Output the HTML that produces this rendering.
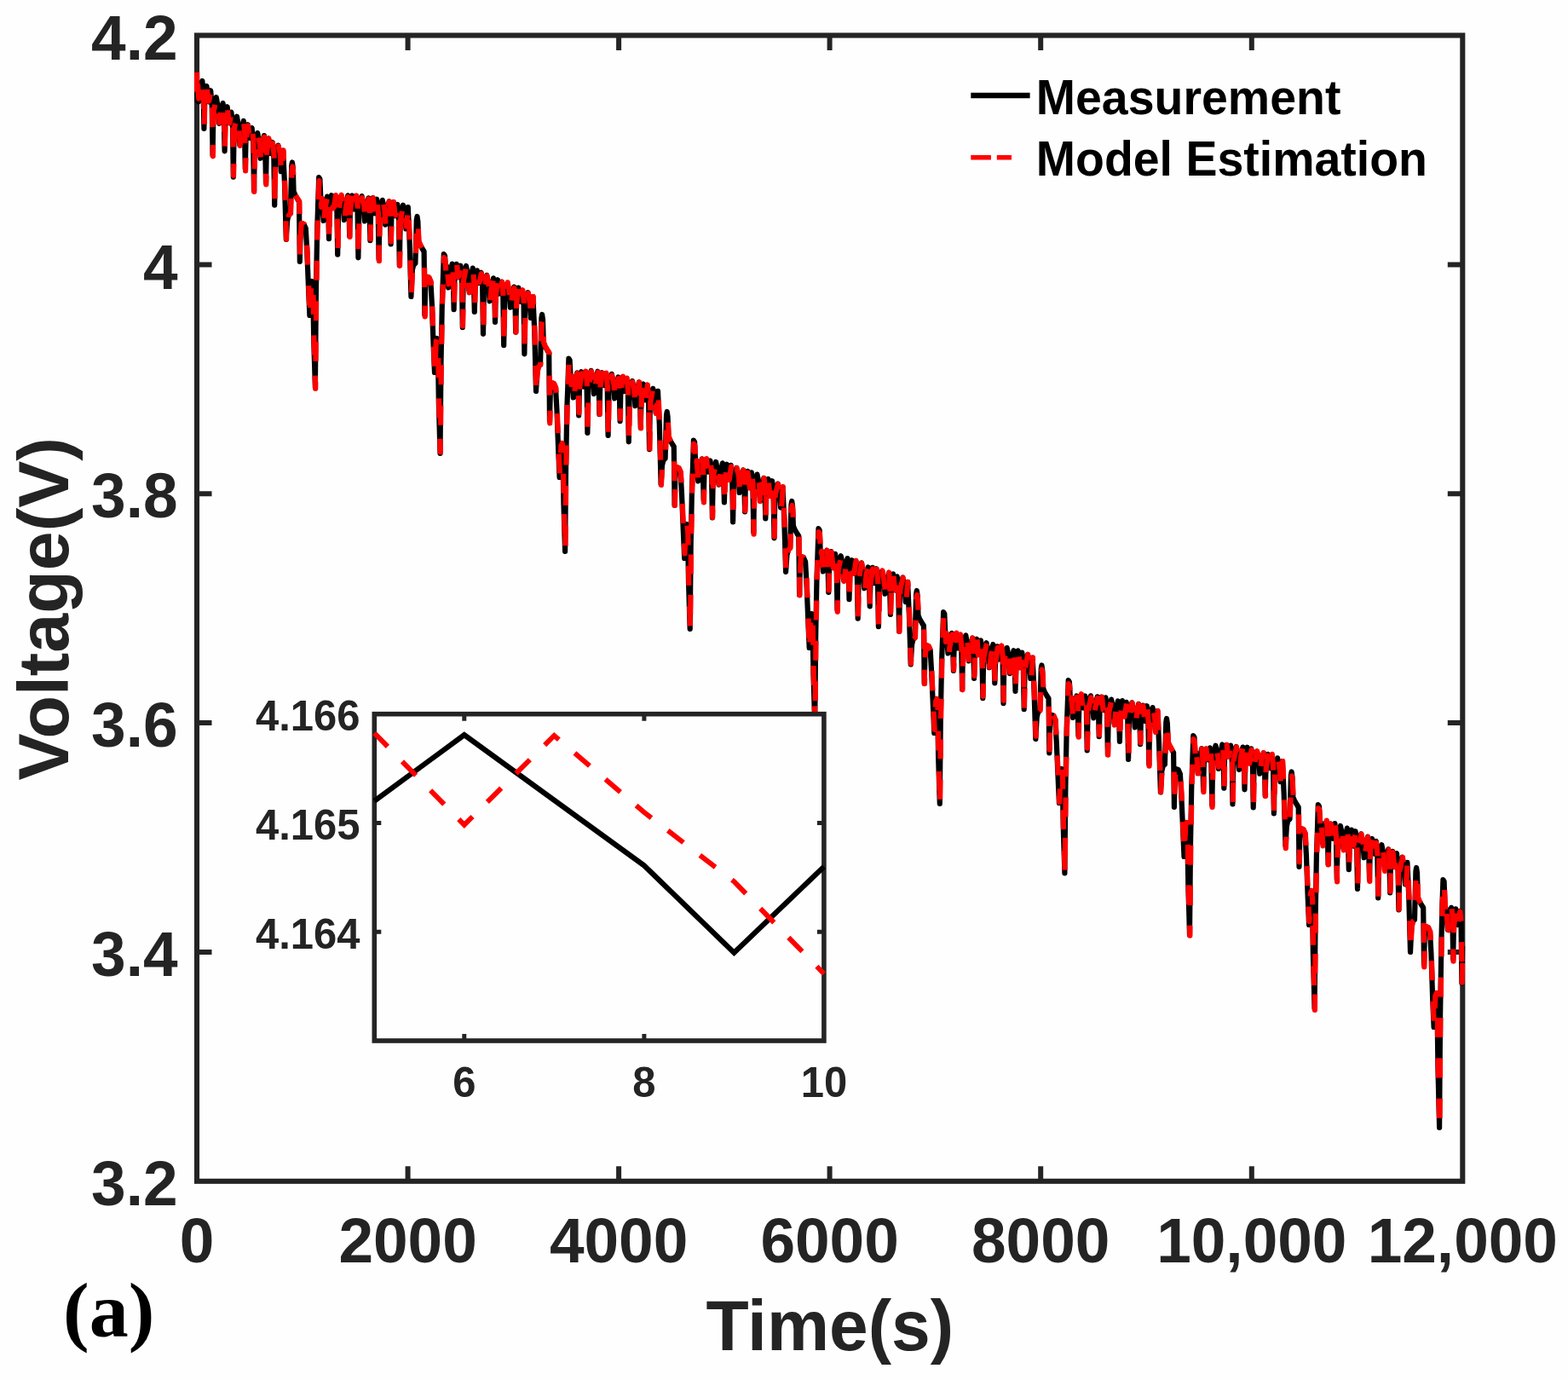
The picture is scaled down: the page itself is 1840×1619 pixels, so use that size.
<!DOCTYPE html>
<html lang="en"><head><meta charset="utf-8"><title>Voltage vs Time</title>
<style>html,body{margin:0;padding:0;background:#fefefe;overflow:hidden;}svg{display:block;}text{font-family:"Liberation Sans",Arial,Helvetica,sans-serif;font-weight:bold;}</style></head><body>
<svg width="1840" height="1619" viewBox="0 0 1840 1619">
<rect x="0" y="0" width="1840" height="1619" fill="#fefefe"/>
<rect x="231.0" y="41.5" width="1485.3" height="1344.3" fill="none" stroke="#242424" stroke-width="6.1"/>
<path d="M478.6 1385.8 v-17.5 M478.6 41.5 v17.5 M726.1 1385.8 v-17.5 M726.1 41.5 v17.5 M973.6 1385.8 v-17.5 M973.6 41.5 v17.5 M1221.2 1385.8 v-17.5 M1221.2 41.5 v17.5 M1468.8 1385.8 v-17.5 M1468.8 41.5 v17.5 M231.0 310.4 h17.5 M1716.3 310.4 h-17.5 M231.0 579.2 h17.5 M1716.3 579.2 h-17.5 M231.0 848.1 h17.5 M1716.3 848.1 h-17.5 M231.0 1116.9 h17.5 M1716.3 1116.9 h-17.5" fill="none" stroke="#242424" stroke-width="6.0"/>
<clipPath id="cp"><rect x="227.8" y="41.5" width="1491.7" height="1344.3"/></clipPath>
<g clip-path="url(#cp)" fill="none" stroke-linejoin="round" stroke-linecap="butt">
<path d="M231.0 84.8 L231.3 117.8 L231.9 98.6 L233.0 119.3 L233.7 118.2 L234.8 103.2 L237.4 95.0 L238.6 109.5 L239.4 151.0 L240.2 114.3 L242.5 101.0 L243.9 118.1 L244.9 119.3 L247.2 106.2 L248.7 124.2 L249.6 182.2 L250.5 127.8 L253.8 114.2 L256.1 127.5 L257.2 144.9 L257.9 143.4 L259.0 131.0 L261.6 121.1 L262.8 138.0 L263.6 177.3 L264.4 138.2 L266.7 125.2 L268.1 142.8 L269.1 143.9 L271.4 131.6 L272.9 144.7 L273.8 207.7 L274.7 150.8 L278.0 136.7 L280.3 151.0 L281.4 170.1 L282.1 168.4 L283.2 153.8 L285.8 141.8 L287.0 156.0 L287.8 198.0 L288.6 161.0 L290.9 146.2 L292.3 161.2 L293.3 161.9 L295.6 150.1 L297.1 165.5 L298.0 223.6 L298.9 170.8 L302.2 156.1 L304.5 168.6 L305.6 185.7 L306.3 184.0 L307.4 169.0 L310.0 159.1 L311.2 176.9 L312.0 214.3 L312.8 176.9 L315.1 162.3 L316.5 179.8 L317.5 180.0 L319.8 167.0 L321.3 181.9 L322.2 240.7 L323.1 186.1 L326.4 170.6 L328.7 181.9 L329.8 201.2 L330.5 199.7 L332.2 176.7 L334.0 215.7 L335.8 280.8 L337.2 258.5 L338.6 252.5 L340.8 250.5 L342.2 194.5 L342.9 190.5 L343.8 196.5 L344.6 224.5 L346.2 228.5 L349.1 233.5 L351.0 236.5 L351.8 307.0 L352.6 273.0 L353.4 262.0 L356.6 263.0 L358.8 268.0 L360.2 293.0 L362.0 338.0 L363.4 370.0 L364.9 333.0 L366.2 330.0 L367.2 340.0 L368.2 398.5 L369.9 454.5 L370.9 343.6 L372.2 269.6 L373.2 238.0 L374.2 208.0 L375.4 210.0 L376.8 242.9 L377.6 232.9 L379.6 258.9 L380.3 256.9 L381.4 242.4 L384.0 230.6 L385.2 242.2 L386.0 280.2 L386.8 246.9 L389.1 229.2 L390.5 242.8 L391.5 243.4 L393.8 229.6 L395.3 242.4 L396.2 298.6 L397.1 245.5 L400.4 229.8 L402.7 238.3 L403.8 258.1 L404.5 256.1 L405.6 243.4 L408.2 229.3 L409.4 242.8 L410.2 276.9 L411.0 244.7 L413.3 229.5 L414.7 242.4 L415.7 245.4 L418.0 230.1 L419.5 242.3 L420.4 302.3 L421.3 248.1 L424.6 230.1 L426.9 242.1 L428.0 259.5 L428.7 257.6 L429.8 244.8 L432.4 232.3 L433.6 247.8 L434.4 282.1 L435.2 248.7 L437.5 232.1 L438.9 245.3 L439.9 250.3 L442.2 233.7 L443.7 248.9 L444.6 304.1 L445.5 251.8 L448.8 234.9 L451.1 246.2 L452.2 263.6 L452.9 261.8 L454.0 246.1 L456.6 236.3 L457.8 251.3 L458.6 286.5 L459.4 253.6 L461.7 237.1 L463.1 250.7 L464.1 253.2 L466.4 239.9 L467.9 255.0 L468.8 311.5 L469.7 258.4 L473.0 240.7 L475.3 251.7 L476.4 268.5 L477.1 266.5 L478.8 243.1 L480.6 282.1 L482.4 348.0 L483.8 317.0 L485.2 311.0 L487.4 309.0 L488.8 258.0 L489.5 254.0 L490.4 260.0 L491.2 283.0 L492.8 287.0 L495.7 292.0 L497.6 295.0 L498.4 369.5 L499.2 335.5 L500.0 324.5 L503.2 325.5 L505.4 330.5 L506.8 355.5 L508.6 405.0 L510.0 437.0 L511.5 400.0 L512.8 397.0 L513.8 407.0 L514.8 471.2 L516.5 532.0 L517.5 426.7 L518.8 356.5 L519.8 328.0 L520.8 298.0 L522.0 300.0 L523.4 322.4 L524.2 312.4 L526.2 337.4 L526.9 335.5 L528.0 324.5 L530.6 309.6 L531.8 326.2 L532.6 363.1 L533.4 327.2 L535.7 309.9 L537.1 325.5 L538.1 324.8 L540.4 311.7 L541.9 323.9 L542.8 384.2 L543.7 328.7 L547.0 312.0 L549.3 324.8 L550.4 340.6 L551.1 339.0 L552.2 326.2 L554.8 314.6 L556.0 330.8 L556.8 365.9 L557.6 333.0 L559.9 317.3 L561.3 330.0 L562.3 332.0 L564.6 319.7 L566.1 332.6 L567.0 391.8 L567.9 339.7 L571.2 322.8 L573.5 336.4 L574.6 353.3 L575.3 351.6 L576.4 339.6 L579.0 326.4 L580.2 338.7 L581.0 378.0 L581.8 342.6 L584.1 328.2 L585.5 344.7 L586.5 342.4 L588.8 330.6 L590.3 347.1 L591.2 405.2 L592.1 345.6 L595.4 332.3 L597.7 345.3 L598.8 360.6 L599.5 358.8 L600.6 348.8 L603.2 336.6 L604.4 352.8 L605.2 389.8 L606.0 354.8 L608.3 337.5 L609.7 350.8 L610.7 353.9 L613.0 341.0 L614.5 355.0 L615.4 415.3 L616.3 356.7 L619.6 343.2 L621.9 356.1 L623.0 373.0 L623.7 371.4 L625.4 348.0 L627.2 387.0 L629.0 459.0 L630.4 436.0 L631.8 430.0 L634.0 428.0 L635.4 373.0 L636.1 369.0 L637.0 375.0 L637.8 402.0 L639.4 406.0 L642.3 411.0 L644.2 414.0 L645.0 494.0 L645.8 460.0 L646.6 449.0 L649.8 450.0 L652.0 455.0 L653.4 480.0 L655.2 528.0 L656.6 560.0 L658.1 523.0 L659.4 520.0 L660.4 530.0 L661.4 589.9 L663.1 647.0 L664.1 545.1 L665.4 477.1 L666.4 450.5 L667.4 420.5 L668.6 422.5 L670.0 451.2 L670.8 441.2 L672.8 466.5 L673.5 464.4 L674.6 451.1 L677.2 437.3 L678.4 450.4 L679.2 487.4 L680.0 453.8 L682.3 436.2 L683.7 448.6 L684.7 453.6 L687.0 436.7 L688.5 449.6 L689.4 508.0 L690.3 452.9 L693.6 434.8 L695.9 445.2 L697.0 462.1 L697.7 460.0 L698.8 448.1 L701.4 435.7 L702.6 449.5 L703.4 486.2 L704.2 454.4 L706.5 437.2 L707.9 450.8 L708.9 451.9 L711.2 438.5 L712.7 454.9 L713.6 510.9 L714.5 456.0 L717.8 438.8 L720.1 451.0 L721.2 467.5 L721.9 465.7 L723.0 454.2 L725.6 442.5 L726.8 458.2 L727.6 494.2 L728.4 457.7 L730.7 442.6 L732.1 459.1 L733.1 459.0 L735.4 444.2 L736.9 460.1 L737.8 518.3 L738.7 462.2 L742.0 447.1 L744.3 460.2 L745.4 476.2 L746.1 474.4 L747.2 463.1 L749.8 448.4 L751.0 466.4 L751.8 501.9 L752.6 464.5 L754.9 450.5 L756.3 465.2 L757.3 469.4 L759.6 451.7 L761.1 469.0 L762.0 527.1 L762.9 471.3 L766.2 455.8 L768.5 467.3 L769.6 484.0 L770.3 482.3 L772.0 458.9 L773.8 497.9 L775.6 568.0 L777.0 546.0 L778.4 540.0 L780.6 538.0 L782.0 487.0 L782.7 483.0 L783.6 489.0 L784.4 512.0 L786.0 516.0 L788.9 521.0 L790.8 524.0 L791.6 593.0 L792.4 559.0 L793.2 548.0 L796.4 549.0 L798.6 554.0 L800.0 579.0 L801.8 623.0 L803.2 655.0 L804.7 618.0 L806.0 615.0 L807.0 625.0 L808.0 682.6 L809.7 738.0 L810.7 638.4 L812.0 572.0 L813.0 546.7 L813.9 516.7 L815.1 518.7 L816.5 550.5 L817.3 540.6 L819.3 564.5 L820.0 562.7 L821.1 551.5 L823.7 538.3 L824.9 554.2 L825.7 586.6 L826.5 554.9 L828.8 539.2 L830.2 552.3 L831.2 553.5 L833.5 540.5 L835.0 555.8 L835.9 607.5 L836.8 556.6 L840.1 541.9 L842.4 553.5 L843.5 568.6 L844.2 566.7 L845.3 556.0 L847.9 543.4 L849.1 557.2 L849.9 589.5 L850.7 560.6 L853.0 544.7 L854.4 560.5 L855.4 561.8 L857.7 545.8 L859.2 560.4 L860.1 612.4 L861.0 562.8 L864.3 548.8 L866.6 558.1 L867.7 578.0 L868.4 576.3 L869.5 563.8 L872.1 551.5 L873.3 563.7 L874.1 600.5 L874.9 567.4 L877.2 552.9 L878.6 564.7 L879.6 571.9 L881.9 554.4 L883.4 568.9 L884.3 624.3 L885.2 570.3 L888.5 556.6 L890.8 567.8 L891.9 587.7 L892.6 586.0 L893.7 572.7 L896.3 560.9 L897.5 575.9 L898.3 608.3 L899.1 577.1 L901.4 561.8 L902.8 577.9 L903.8 580.6 L906.1 564.2 L907.6 581.5 L908.5 631.3 L909.4 581.2 L912.7 567.6 L915.0 578.6 L916.1 595.3 L916.8 593.6 L918.5 571.3 L920.3 610.3 L922.1 670.8 L923.5 651.0 L924.9 645.0 L927.1 643.0 L928.5 592.0 L929.2 588.0 L930.1 594.0 L930.9 617.0 L932.5 621.0 L935.4 626.0 L937.3 629.0 L938.1 698.0 L938.9 664.0 L939.7 653.0 L942.9 654.0 L945.1 659.0 L946.5 684.0 L948.3 728.0 L949.7 760.0 L951.2 723.0 L952.5 720.0 L953.5 730.0 L954.5 791.5 L956.2 850.0 L957.2 746.5 L958.5 677.5 L959.5 650.0 L960.5 620.0 L961.7 622.0 L963.1 656.5 L963.9 646.7 L965.9 670.4 L966.6 668.6 L967.7 657.6 L970.3 645.7 L971.5 661.1 L972.3 694.9 L973.1 664.0 L975.4 647.0 L976.8 661.9 L977.8 665.1 L980.1 649.8 L981.6 662.3 L982.5 715.4 L983.4 668.2 L986.7 652.2 L989.0 662.4 L990.1 680.6 L990.8 678.9 L991.9 664.6 L994.5 655.1 L995.7 670.1 L996.5 703.2 L997.3 672.3 L999.6 657.2 L1001.0 669.3 L1002.0 672.7 L1004.3 657.8 L1005.8 674.9 L1006.7 725.6 L1007.6 678.5 L1010.9 660.3 L1013.2 673.6 L1014.3 690.2 L1015.0 688.5 L1016.1 675.3 L1018.7 665.4 L1019.9 677.4 L1020.7 711.3 L1021.5 680.5 L1023.8 665.8 L1025.2 679.3 L1026.2 684.1 L1028.5 667.2 L1030.0 683.5 L1030.9 735.2 L1031.8 685.7 L1035.1 669.8 L1037.4 682.6 L1038.5 696.7 L1039.2 694.9 L1040.3 686.0 L1042.9 672.4 L1044.1 689.2 L1044.9 720.9 L1045.7 689.2 L1048.0 673.3 L1049.4 689.0 L1050.4 692.4 L1052.7 676.3 L1054.2 690.6 L1055.1 740.7 L1056.0 692.2 L1059.3 677.6 L1061.6 689.3 L1062.7 706.1 L1063.4 704.4 L1065.1 682.8 L1066.9 721.8 L1068.7 779.5 L1070.1 756.0 L1071.5 750.0 L1073.7 748.0 L1075.1 697.0 L1075.8 693.0 L1076.7 699.0 L1077.5 722.0 L1079.1 726.0 L1082.0 731.0 L1083.9 734.0 L1084.7 802.0 L1085.5 768.0 L1086.3 757.0 L1089.5 758.0 L1091.7 763.0 L1093.1 788.0 L1094.9 828.0 L1096.3 860.0 L1097.8 823.0 L1099.1 820.0 L1100.1 830.0 L1101.1 887.6 L1102.8 943.0 L1103.8 841.8 L1105.1 774.2 L1106.1 748.0 L1107.1 718.0 L1108.3 720.0 L1109.7 753.1 L1110.5 743.2 L1112.5 766.4 L1113.2 764.6 L1114.3 756.1 L1116.9 742.8 L1118.1 757.5 L1118.9 787.0 L1119.7 757.9 L1122.0 743.6 L1123.4 756.6 L1124.4 760.4 L1126.7 745.2 L1128.2 758.5 L1129.1 808.6 L1130.0 762.5 L1133.3 745.3 L1135.6 758.1 L1136.7 775.4 L1137.4 773.6 L1138.5 760.6 L1141.1 748.6 L1142.3 765.5 L1143.1 795.9 L1143.9 764.1 L1146.2 749.7 L1147.6 766.4 L1148.6 766.0 L1150.9 751.4 L1152.4 767.9 L1153.3 819.1 L1154.2 771.1 L1157.5 754.2 L1159.8 763.8 L1160.9 783.2 L1161.6 781.5 L1162.7 769.3 L1165.3 756.0 L1166.5 772.5 L1167.3 801.4 L1168.1 775.7 L1170.4 758.3 L1171.8 773.6 L1172.8 771.7 L1175.1 758.2 L1176.6 773.5 L1177.5 825.1 L1178.4 774.4 L1181.7 760.1 L1184.0 771.6 L1185.1 790.1 L1185.8 788.2 L1186.9 776.6 L1189.5 763.2 L1190.7 778.6 L1191.5 810.9 L1192.3 777.8 L1194.6 763.4 L1196.0 777.6 L1197.0 782.0 L1199.3 765.6 L1200.8 782.7 L1201.7 832.1 L1202.6 785.5 L1205.9 767.8 L1208.2 780.9 L1209.3 795.9 L1210.0 794.2 L1211.7 771.7 L1213.5 810.7 L1215.3 867.0 L1216.7 841.5 L1218.1 835.5 L1220.3 833.5 L1221.7 784.5 L1222.4 780.5 L1223.3 786.5 L1224.1 807.5 L1225.7 811.5 L1228.6 816.5 L1230.5 819.5 L1231.3 883.5 L1232.1 849.5 L1232.9 838.5 L1236.1 839.5 L1238.3 844.5 L1239.7 869.5 L1241.5 910.0 L1242.9 942.0 L1244.4 905.0 L1245.7 902.0 L1246.7 912.0 L1247.7 969.4 L1249.4 1024.5 L1250.4 922.6 L1251.7 854.6 L1252.7 828.0 L1253.7 798.0 L1254.9 800.0 L1256.3 828.6 L1257.1 818.6 L1259.1 842.0 L1259.8 840.0 L1260.9 828.6 L1263.5 816.5 L1264.7 829.4 L1265.5 862.9 L1266.3 830.2 L1268.6 815.3 L1270.0 829.1 L1271.0 830.4 L1273.3 816.5 L1274.8 828.9 L1275.7 880.4 L1276.6 832.0 L1279.9 816.4 L1282.2 828.5 L1283.3 842.3 L1284.0 840.3 L1285.1 830.2 L1287.7 817.4 L1288.9 831.0 L1289.7 864.2 L1290.5 834.8 L1292.8 817.5 L1294.2 832.7 L1295.2 833.0 L1297.5 818.4 L1299.0 835.4 L1299.9 885.1 L1300.8 837.2 L1304.1 820.6 L1306.4 832.4 L1307.5 848.2 L1308.2 846.3 L1309.3 832.8 L1311.9 822.5 L1313.1 838.5 L1313.9 869.8 L1314.7 837.8 L1317.0 822.0 L1318.4 835.7 L1319.4 839.8 L1321.7 823.8 L1323.2 840.0 L1324.1 890.9 L1325.0 840.4 L1328.3 824.3 L1330.6 836.1 L1331.7 853.4 L1332.4 851.6 L1333.5 840.5 L1336.1 825.9 L1337.3 843.9 L1338.1 873.1 L1338.9 844.3 L1341.2 827.6 L1342.6 839.7 L1343.6 846.0 L1345.9 828.2 L1347.4 846.4 L1348.3 896.5 L1349.2 847.0 L1352.5 830.1 L1354.8 843.5 L1355.9 857.2 L1356.6 855.3 L1358.3 834.1 L1360.1 873.1 L1361.9 929.5 L1363.3 904.8 L1364.7 898.8 L1366.9 896.8 L1368.3 847.0 L1369.0 843.0 L1369.9 849.0 L1370.7 870.8 L1372.3 874.8 L1375.2 879.8 L1377.1 882.8 L1377.9 947.0 L1378.7 913.0 L1379.5 902.0 L1382.7 903.0 L1384.9 908.0 L1386.3 933.0 L1388.1 973.0 L1389.5 1005.0 L1391.0 968.0 L1392.3 965.0 L1393.3 975.0 L1394.3 1037.6 L1396.0 1097.0 L1397.0 991.7 L1398.3 921.5 L1399.3 893.0 L1400.3 863.0 L1401.5 865.0 L1402.9 893.4 L1403.7 883.3 L1405.7 907.2 L1406.4 905.0 L1407.5 894.4 L1410.1 878.1 L1411.3 894.2 L1412.1 926.7 L1412.9 893.1 L1415.2 878.7 L1416.6 889.0 L1417.6 891.3 L1419.9 877.3 L1421.4 893.1 L1422.3 944.7 L1423.2 891.6 L1426.5 874.7 L1428.8 886.1 L1429.9 901.9 L1430.6 899.8 L1431.7 887.6 L1434.3 873.5 L1435.5 887.6 L1436.3 924.6 L1437.1 888.1 L1439.4 873.9 L1440.8 886.0 L1441.8 887.0 L1444.1 874.6 L1445.6 886.6 L1446.5 943.4 L1447.4 891.8 L1450.7 876.0 L1453.0 887.1 L1454.1 902.9 L1454.8 901.0 L1455.9 887.1 L1458.5 876.6 L1459.7 893.2 L1460.5 926.3 L1461.3 893.1 L1463.6 876.7 L1465.0 890.4 L1466.0 895.1 L1468.3 878.3 L1469.8 891.5 L1470.7 947.5 L1471.6 896.3 L1474.9 881.6 L1477.2 891.9 L1478.3 907.7 L1479.0 906.0 L1480.1 892.9 L1482.7 883.3 L1483.9 896.9 L1484.7 933.7 L1485.5 899.8 L1487.8 884.8 L1489.2 899.5 L1490.2 900.9 L1492.5 885.7 L1494.0 901.5 L1494.9 954.4 L1495.8 904.3 L1499.1 889.3 L1501.4 901.2 L1502.5 917.1 L1503.2 915.4 L1504.9 893.2 L1506.7 932.2 L1508.5 992.5 L1509.9 969.0 L1511.3 963.0 L1513.5 961.0 L1514.9 909.5 L1515.6 905.5 L1516.5 911.5 L1517.3 935.0 L1518.9 939.0 L1521.8 944.0 L1523.7 947.0 L1524.5 1017.0 L1525.3 983.0 L1526.1 972.0 L1529.3 973.0 L1531.5 978.0 L1532.9 1003.0 L1534.7 1053.0 L1536.1 1085.0 L1537.6 1048.0 L1538.9 1045.0 L1539.9 1055.0 L1540.9 1120.9 L1542.6 1183.0 L1543.6 1075.5 L1544.9 1003.8 L1545.9 974.0 L1546.8 944.0 L1548.0 946.0 L1549.4 975.2 L1550.2 965.3 L1552.2 989.3 L1552.9 987.5 L1554.0 977.2 L1556.6 963.5 L1557.8 978.3 L1558.6 1014.1 L1559.4 981.1 L1561.7 966.5 L1563.1 977.3 L1564.1 983.8 L1566.4 966.1 L1567.9 983.6 L1568.8 1031.8 L1569.7 983.5 L1573.0 969.0 L1575.3 980.9 L1576.4 994.9 L1577.1 993.1 L1578.2 982.9 L1580.8 971.6 L1582.0 988.2 L1582.8 1020.1 L1583.6 989.5 L1585.9 973.6 L1587.3 988.9 L1588.3 992.5 L1590.6 975.2 L1592.1 991.2 L1593.0 1042.9 L1593.9 991.5 L1597.2 978.3 L1599.5 990.9 L1600.6 1006.2 L1601.3 1004.5 L1602.4 995.4 L1605.0 981.6 L1606.2 999.7 L1607.0 1031.6 L1607.8 997.8 L1610.1 984.0 L1611.5 996.9 L1612.5 1001.6 L1614.8 986.9 L1616.3 1002.9 L1617.2 1053.4 L1618.1 1006.1 L1621.4 991.2 L1623.7 1003.7 L1624.8 1020.3 L1625.5 1018.7 L1626.6 1006.8 L1629.2 996.3 L1630.4 1010.9 L1631.2 1047.4 L1632.0 1012.7 L1634.3 998.9 L1635.7 1012.3 L1636.7 1016.3 L1639.0 1001.1 L1640.5 1019.6 L1641.4 1067.5 L1642.3 1020.4 L1645.6 1005.7 L1647.9 1019.9 L1649.0 1037.3 L1649.7 1035.7 L1651.4 1011.9 L1653.2 1050.9 L1655.0 1117.0 L1656.4 1087.0 L1657.8 1081.0 L1660.0 1079.0 L1661.4 1022.0 L1662.1 1018.0 L1663.0 1024.0 L1663.8 1053.0 L1665.4 1057.0 L1668.3 1062.0 L1670.2 1065.0 L1671.0 1132.0 L1671.8 1098.0 L1672.6 1087.0 L1675.8 1088.0 L1678.0 1093.0 L1679.4 1118.0 L1681.2 1173.0 L1682.6 1205.0 L1684.1 1168.0 L1685.4 1165.0 L1686.4 1175.0 L1687.4 1251.9 L1689.1 1323.0 L1690.1 1192.0 L1691.4 1104.8 L1692.4 1062.0 L1693.4 1032.0 L1694.6 1034.0 L1696.0 1075.3 L1696.8 1065.5 L1698.8 1090.4 L1699.5 1088.7 L1700.6 1077.0 L1703.2 1064.9 L1704.4 1077.0 L1705.2 1125.3 L1706.0 1083.6 L1708.3 1066.3 L1709.7 1078.6 L1710.7 1085.0 L1713.0 1068.8 L1714.5 1080.9 L1715.4 1153.5 L1716.3 1110.0" stroke="#000" stroke-width="6.2"/>
<path d="M231.0 84.8 L231.3 117.8 L232.2 100.4 L233.3 115.7 L234.0 114.8 L235.1 104.7 L237.7 96.2 L238.9 110.4 L239.7 149.1 L240.5 115.1 L242.8 101.7 L244.2 118.7 L245.2 118.6 L247.5 106.3 L249.0 124.3 L249.9 183.3 L250.8 129.7 L254.1 116.0 L256.4 128.0 L257.5 144.0 L258.2 141.3 L259.3 129.9 L261.9 120.0 L263.1 138.3 L263.9 175.5 L264.7 138.2 L267.0 126.9 L268.4 143.3 L269.4 144.4 L271.7 131.2 L273.2 143.6 L274.1 206.0 L275.0 150.0 L278.3 137.1 L280.6 153.0 L281.7 170.8 L282.4 165.7 L283.5 155.5 L286.1 143.2 L287.3 157.2 L288.1 200.4 L288.9 162.2 L291.2 147.5 L292.6 161.1 L293.6 163.9 L295.9 151.9 L297.4 164.8 L298.3 224.9 L299.2 171.9 L302.5 156.4 L304.8 169.1 L305.9 185.1 L306.6 186.5 L307.7 169.4 L310.3 160.6 L311.5 176.9 L312.3 216.5 L313.1 178.6 L315.4 162.6 L316.8 180.4 L317.8 181.7 L320.1 168.1 L321.6 182.2 L322.5 238.2 L323.4 185.9 L326.7 171.6 L329.0 181.2 L330.1 203.6 L330.8 197.5 L332.5 176.7 L334.3 215.7 L336.1 280.7 L337.5 258.5 L338.9 252.5 L341.1 250.5 L342.5 199.5 L343.2 195.5 L344.1 201.5 L344.9 224.5 L346.5 228.5 L349.4 233.5 L351.3 236.5 L352.1 301.8 L352.9 273.0 L353.7 262.0 L356.9 263.0 L359.1 268.0 L360.5 293.0 L362.3 338.0 L363.7 371.8 L365.2 333.0 L366.5 330.0 L367.5 340.0 L368.5 399.2 L370.2 455.9 L371.2 344.3 L372.5 270.0 L373.5 238.0 L374.5 212.0 L375.7 214.0 L377.1 242.9 L377.9 232.9 L379.9 260.1 L380.6 253.3 L381.7 243.3 L384.3 230.3 L385.5 241.8 L386.3 282.4 L387.1 246.0 L389.4 229.6 L390.8 244.4 L391.8 243.0 L394.1 229.1 L395.6 244.0 L396.5 297.6 L397.4 246.5 L400.7 228.7 L403.0 238.3 L404.1 255.3 L404.8 256.8 L405.9 242.4 L408.5 231.2 L409.7 241.6 L410.5 278.0 L411.3 243.6 L413.6 229.1 L415.0 243.8 L416.0 244.7 L418.3 229.5 L419.8 243.4 L420.7 301.0 L421.6 247.0 L424.9 232.1 L427.2 241.4 L428.3 255.7 L429.0 256.0 L430.1 245.5 L432.7 233.5 L433.9 247.0 L434.7 280.4 L435.5 247.6 L437.8 232.3 L439.2 246.6 L440.2 251.5 L442.5 235.3 L444.0 250.1 L444.9 306.2 L445.8 252.9 L449.1 235.2 L451.4 245.8 L452.5 264.3 L453.2 260.0 L454.3 245.2 L456.9 236.5 L458.1 252.9 L458.9 283.4 L459.7 254.2 L462.0 237.1 L463.4 251.1 L464.4 252.4 L466.7 241.7 L468.2 254.6 L469.1 311.8 L470.0 258.5 L473.3 239.6 L475.6 252.3 L476.7 265.4 L477.4 262.9 L479.1 243.1 L480.9 282.1 L482.7 348.0 L484.1 317.0 L485.5 311.0 L487.7 309.0 L489.1 263.0 L489.8 259.0 L490.7 265.0 L491.5 283.0 L493.1 287.0 L496.0 292.0 L497.9 295.0 L498.7 371.5 L499.5 335.5 L500.3 324.5 L503.5 325.5 L505.7 330.5 L507.1 355.5 L508.9 405.0 L510.3 437.5 L511.8 400.0 L513.1 397.0 L514.1 407.0 L515.1 470.4 L516.8 530.5 L517.8 425.9 L519.1 356.1 L520.1 328.0 L521.1 302.0 L522.3 304.0 L523.7 322.4 L524.5 312.4 L526.5 333.4 L527.2 331.7 L528.3 324.6 L530.9 308.7 L532.1 327.3 L532.9 360.7 L533.7 326.3 L536.0 309.2 L537.4 325.0 L538.4 324.3 L540.7 312.2 L542.2 324.2 L543.1 382.4 L544.0 329.5 L547.3 311.5 L549.6 326.5 L550.7 343.4 L551.4 340.1 L552.5 326.4 L555.1 315.1 L556.3 331.5 L557.1 362.3 L557.9 333.2 L560.2 317.8 L561.6 329.4 L562.6 331.1 L564.9 321.1 L566.4 332.5 L567.3 391.4 L568.2 341.4 L571.5 323.6 L573.8 336.1 L574.9 356.2 L575.6 350.2 L576.7 338.4 L579.3 327.4 L580.5 337.8 L581.3 376.1 L582.1 344.1 L584.4 329.2 L585.8 343.6 L586.8 342.7 L589.1 330.8 L590.6 347.4 L591.5 402.6 L592.4 346.2 L595.7 331.3 L598.0 345.0 L599.1 359.2 L599.8 361.4 L600.9 347.9 L603.5 337.9 L604.7 352.2 L605.5 389.8 L606.3 354.9 L608.6 337.8 L610.0 352.0 L611.0 353.9 L613.3 340.2 L614.8 354.2 L615.7 411.9 L616.6 358.2 L619.9 344.0 L622.2 358.0 L623.3 373.9 L624.0 367.5 L625.7 348.0 L627.5 387.0 L629.3 461.5 L630.7 436.0 L632.1 430.0 L634.3 428.0 L635.7 378.0 L636.4 374.0 L637.3 380.0 L638.1 402.0 L639.7 406.0 L642.6 411.0 L644.5 414.0 L645.3 496.4 L646.1 460.0 L646.9 449.0 L650.1 450.0 L652.3 455.0 L653.7 480.0 L655.5 528.0 L656.9 555.6 L658.4 523.0 L659.7 520.0 L660.7 530.0 L661.7 589.0 L663.4 645.4 L664.4 544.2 L665.7 476.7 L666.7 450.5 L667.7 424.5 L668.9 426.5 L670.3 451.2 L671.1 441.2 L673.1 465.5 L673.8 465.2 L674.9 452.8 L677.5 438.0 L678.7 451.8 L679.5 484.1 L680.3 453.7 L682.6 438.2 L684.0 447.9 L685.0 453.8 L687.3 435.7 L688.8 448.6 L689.7 510.3 L690.6 454.8 L693.9 435.7 L696.2 444.4 L697.3 460.2 L698.0 457.6 L699.1 449.0 L701.7 436.6 L702.9 449.7 L703.7 485.8 L704.5 453.5 L706.8 437.7 L708.2 452.6 L709.2 453.1 L711.5 437.6 L713.0 455.4 L713.9 511.9 L714.8 455.6 L718.1 440.5 L720.4 451.2 L721.5 468.4 L722.2 464.6 L723.3 456.2 L725.9 443.8 L727.1 458.9 L727.9 491.2 L728.7 457.9 L731.0 441.5 L732.4 459.8 L733.4 460.6 L735.7 443.6 L737.2 460.6 L738.1 517.7 L739.0 462.3 L742.3 448.2 L744.6 462.0 L745.7 477.2 L746.4 473.7 L747.5 465.0 L750.1 448.3 L751.3 467.6 L752.1 502.5 L752.9 465.8 L755.2 452.1 L756.6 464.7 L757.6 470.2 L759.9 451.7 L761.4 469.9 L762.3 530.0 L763.2 472.1 L766.5 454.6 L768.8 467.6 L769.9 485.0 L770.6 484.4 L772.3 458.9 L774.1 497.9 L775.9 569.0 L777.3 546.0 L778.7 540.0 L780.9 538.0 L782.3 492.0 L783.0 488.0 L783.9 494.0 L784.7 512.0 L786.3 516.0 L789.2 521.0 L791.1 524.0 L791.9 592.9 L792.7 559.0 L793.5 548.0 L796.7 549.0 L798.9 554.0 L800.3 579.0 L802.1 623.0 L803.5 649.3 L805.0 618.0 L806.3 615.0 L807.3 625.0 L808.3 683.7 L810.0 739.8 L811.0 639.4 L812.3 572.5 L813.3 546.7 L814.2 520.7 L815.4 522.7 L816.8 550.5 L817.6 540.6 L819.6 563.6 L820.3 560.4 L821.4 552.1 L824.0 538.6 L825.2 553.6 L826.0 589.4 L826.8 554.0 L829.1 538.0 L830.5 552.7 L831.5 554.9 L833.8 541.4 L835.3 557.1 L836.2 606.9 L837.1 557.5 L840.4 541.8 L842.7 553.2 L843.8 568.1 L844.5 562.9 L845.6 555.0 L848.2 544.6 L849.4 556.6 L850.2 590.8 L851.0 561.9 L853.3 544.8 L854.7 561.5 L855.7 563.1 L858.0 547.4 L859.5 559.6 L860.4 609.6 L861.3 562.8 L864.6 549.1 L866.9 557.9 L868.0 574.1 L868.7 576.2 L869.8 565.7 L872.4 551.5 L873.6 564.3 L874.4 599.2 L875.2 567.6 L877.5 554.5 L878.9 564.5 L879.9 572.7 L882.2 554.7 L883.7 569.4 L884.6 626.7 L885.5 569.3 L888.8 558.0 L891.1 567.5 L892.2 588.2 L892.9 587.6 L894.0 573.6 L896.6 561.0 L897.8 577.4 L898.6 605.0 L899.4 577.9 L901.7 561.8 L903.1 578.4 L904.1 582.1 L906.4 565.5 L907.9 582.3 L908.8 629.5 L909.7 580.7 L913.0 567.9 L915.3 578.1 L916.4 593.2 L917.1 596.3 L918.8 571.3 L920.6 610.3 L922.4 669.3 L923.8 651.0 L925.2 645.0 L927.4 643.0 L928.8 597.0 L929.5 593.0 L930.4 599.0 L931.2 617.0 L932.8 621.0 L935.7 626.0 L937.6 629.0 L938.4 698.4 L939.2 664.0 L940.0 653.0 L943.2 654.0 L945.4 659.0 L946.8 684.0 L948.6 728.0 L950.0 763.2 L951.5 723.0 L952.8 720.0 L953.8 730.0 L954.8 790.9 L956.5 849.0 L957.5 745.9 L958.8 677.2 L959.8 650.0 L960.8 624.0 L962.0 626.0 L963.4 656.5 L964.2 646.7 L966.2 667.7 L966.9 669.4 L968.0 657.6 L970.6 645.7 L971.8 662.4 L972.6 692.5 L973.4 665.4 L975.7 647.9 L977.1 662.0 L978.1 666.5 L980.4 649.7 L981.9 663.9 L982.8 717.8 L983.7 668.6 L987.0 653.2 L989.3 664.2 L990.4 681.8 L991.1 680.1 L992.2 666.2 L994.8 656.9 L996.0 671.3 L996.8 706.0 L997.6 672.0 L999.9 658.0 L1001.3 670.3 L1002.3 672.7 L1004.6 657.8 L1006.1 674.3 L1007.0 728.3 L1007.9 678.4 L1011.2 660.7 L1013.5 675.3 L1014.6 687.5 L1015.3 691.2 L1016.4 674.5 L1019.0 664.3 L1020.2 677.4 L1021.0 709.8 L1021.8 682.2 L1024.1 667.4 L1025.5 680.5 L1026.5 684.2 L1028.8 667.8 L1030.3 683.0 L1031.2 737.0 L1032.1 685.8 L1035.4 669.5 L1037.7 683.5 L1038.8 693.7 L1039.5 693.1 L1040.6 687.7 L1043.2 671.5 L1044.4 688.5 L1045.2 718.4 L1046.0 688.8 L1048.3 673.5 L1049.7 688.6 L1050.7 692.3 L1053.0 675.9 L1054.5 690.1 L1055.4 741.0 L1056.3 692.1 L1059.6 677.6 L1061.9 690.6 L1063.0 702.5 L1063.7 701.4 L1065.4 682.8 L1067.2 721.8 L1069.0 778.3 L1070.4 756.0 L1071.8 750.0 L1074.0 748.0 L1075.4 702.0 L1076.1 698.0 L1077.0 704.0 L1077.8 722.0 L1079.4 726.0 L1082.3 731.0 L1084.2 734.0 L1085.0 802.2 L1085.8 768.0 L1086.6 757.0 L1089.8 758.0 L1092.0 763.0 L1093.4 788.0 L1095.2 828.0 L1096.6 855.8 L1098.1 823.0 L1099.4 820.0 L1100.4 830.0 L1101.4 888.8 L1103.1 945.0 L1104.1 842.9 L1105.4 774.8 L1106.4 748.0 L1107.4 722.0 L1108.6 724.0 L1110.0 753.1 L1110.8 743.2 L1112.8 766.2 L1113.5 767.5 L1114.6 758.1 L1117.2 744.3 L1118.4 757.7 L1119.2 785.9 L1120.0 758.3 L1122.3 742.5 L1123.7 755.8 L1124.7 762.4 L1127.0 744.4 L1128.5 760.3 L1129.4 809.3 L1130.3 764.3 L1133.6 744.3 L1135.9 757.9 L1137.0 777.0 L1137.7 769.7 L1138.8 759.8 L1141.4 748.5 L1142.6 764.9 L1143.4 792.9 L1144.2 765.1 L1146.5 748.8 L1147.9 768.3 L1148.9 766.9 L1151.2 750.4 L1152.7 769.6 L1153.6 816.8 L1154.5 771.5 L1157.8 754.8 L1160.1 763.1 L1161.2 782.7 L1161.9 777.9 L1163.0 768.8 L1165.6 757.8 L1166.8 773.9 L1167.6 801.1 L1168.4 776.7 L1170.7 759.9 L1172.1 772.9 L1173.1 772.1 L1175.4 757.5 L1176.9 772.7 L1177.8 821.8 L1178.7 773.9 L1182.0 759.0 L1184.3 771.1 L1185.4 788.7 L1186.1 788.6 L1187.2 778.1 L1189.8 764.9 L1191.0 779.7 L1191.8 810.5 L1192.6 779.5 L1194.9 762.7 L1196.3 776.7 L1197.3 783.4 L1199.6 766.4 L1201.1 782.2 L1202.0 830.7 L1202.9 785.3 L1206.2 768.0 L1208.5 781.1 L1209.6 794.7 L1210.3 795.8 L1212.0 771.7 L1213.8 810.7 L1215.6 863.6 L1217.0 841.5 L1218.4 835.5 L1220.6 833.5 L1222.0 789.5 L1222.7 785.5 L1223.6 791.5 L1224.4 807.5 L1226.0 811.5 L1228.9 816.5 L1230.8 819.5 L1231.6 879.4 L1232.4 849.5 L1233.2 838.5 L1236.4 839.5 L1238.6 844.5 L1240.0 869.5 L1241.8 910.0 L1243.2 941.0 L1244.7 905.0 L1246.0 902.0 L1247.0 912.0 L1248.0 969.9 L1249.7 1025.4 L1250.7 923.1 L1252.0 854.8 L1253.0 828.0 L1254.0 802.0 L1255.2 804.0 L1256.6 828.6 L1257.4 818.6 L1259.4 842.9 L1260.1 839.4 L1261.2 827.5 L1263.8 817.8 L1265.0 830.8 L1265.8 864.7 L1266.6 830.9 L1268.9 814.2 L1270.3 828.6 L1271.3 829.5 L1273.6 817.3 L1275.1 829.4 L1276.0 877.7 L1276.9 833.9 L1280.2 818.3 L1282.5 830.2 L1283.6 841.5 L1284.3 838.3 L1285.4 829.7 L1288.0 818.9 L1289.2 832.1 L1290.0 862.1 L1290.8 836.5 L1293.1 818.1 L1294.5 832.8 L1295.5 833.1 L1297.8 819.5 L1299.3 835.7 L1300.2 885.7 L1301.1 836.3 L1304.4 821.7 L1306.7 832.1 L1307.8 850.6 L1308.5 843.8 L1309.6 832.7 L1312.2 823.0 L1313.4 838.6 L1314.2 869.5 L1315.0 839.6 L1317.3 821.4 L1318.7 837.0 L1319.7 840.8 L1322.0 825.1 L1323.5 840.2 L1324.4 890.0 L1325.3 840.3 L1328.6 824.6 L1330.9 835.7 L1332.0 850.8 L1332.7 850.9 L1333.8 839.9 L1336.4 826.2 L1337.6 844.5 L1338.4 871.3 L1339.2 843.6 L1341.5 828.3 L1342.9 841.3 L1343.9 845.5 L1346.2 829.0 L1347.7 847.3 L1348.6 898.7 L1349.5 848.0 L1352.8 829.9 L1355.1 843.0 L1356.2 859.0 L1356.9 853.4 L1358.6 834.1 L1360.4 873.1 L1362.2 929.1 L1363.6 904.8 L1365.0 898.8 L1367.2 896.8 L1368.6 852.0 L1369.3 848.0 L1370.2 854.0 L1371.0 870.8 L1372.6 874.8 L1375.5 879.8 L1377.4 882.8 L1378.2 942.3 L1379.0 913.0 L1379.8 902.0 L1383.0 903.0 L1385.2 908.0 L1386.6 933.0 L1388.4 973.0 L1389.8 998.8 L1391.3 968.0 L1392.6 965.0 L1393.6 975.0 L1394.6 1038.0 L1396.3 1097.6 L1397.3 992.1 L1398.6 921.7 L1399.6 893.0 L1400.6 867.0 L1401.8 869.0 L1403.2 893.4 L1404.0 883.3 L1406.0 907.3 L1406.7 907.4 L1407.8 895.2 L1410.4 878.5 L1411.6 895.6 L1412.4 929.1 L1413.2 892.4 L1415.5 878.4 L1416.9 890.9 L1417.9 893.1 L1420.2 876.7 L1421.7 894.1 L1422.6 946.9 L1423.5 892.3 L1426.8 875.8 L1429.1 886.6 L1430.2 899.6 L1430.9 897.3 L1432.0 886.6 L1434.6 874.4 L1435.8 886.9 L1436.6 924.9 L1437.4 888.2 L1439.7 874.1 L1441.1 887.9 L1442.1 887.1 L1444.4 874.9 L1445.9 886.6 L1446.8 940.9 L1447.7 891.4 L1451.0 876.5 L1453.3 888.5 L1454.4 899.5 L1455.1 903.6 L1456.2 888.1 L1458.8 875.6 L1460.0 894.2 L1460.8 925.1 L1461.6 893.5 L1463.9 875.8 L1465.3 890.8 L1466.3 895.6 L1468.6 879.6 L1470.1 892.1 L1471.0 948.4 L1471.9 897.5 L1475.2 881.2 L1477.5 890.8 L1478.6 907.1 L1479.3 902.9 L1480.4 892.1 L1483.0 883.2 L1484.2 897.5 L1485.0 934.0 L1485.8 900.7 L1488.1 886.7 L1489.5 898.7 L1490.5 901.5 L1492.8 884.8 L1494.3 902.5 L1495.2 953.5 L1496.1 903.5 L1499.4 889.1 L1501.7 902.1 L1502.8 916.4 L1503.5 918.0 L1505.2 893.2 L1507.0 932.2 L1508.8 995.2 L1510.2 969.0 L1511.6 963.0 L1513.8 961.0 L1515.2 914.5 L1515.9 910.5 L1516.8 916.5 L1517.6 935.0 L1519.2 939.0 L1522.1 944.0 L1524.0 947.0 L1524.8 1011.3 L1525.6 983.0 L1526.4 972.0 L1529.6 973.0 L1531.8 978.0 L1533.2 1003.0 L1535.0 1053.0 L1536.4 1081.1 L1537.9 1048.0 L1539.2 1045.0 L1540.2 1055.0 L1541.2 1122.0 L1542.9 1185.0 L1543.9 1076.6 L1545.2 1004.3 L1546.2 974.0 L1547.1 948.0 L1548.3 950.0 L1549.7 975.2 L1550.5 965.3 L1552.5 992.3 L1553.2 988.5 L1554.3 978.8 L1556.9 962.6 L1558.1 978.8 L1558.9 1014.4 L1559.7 981.3 L1562.0 966.7 L1563.4 978.7 L1564.4 983.1 L1566.7 965.0 L1568.2 984.3 L1569.1 1034.5 L1570.0 984.9 L1573.3 969.9 L1575.6 980.6 L1576.7 997.3 L1577.4 989.4 L1578.5 982.5 L1581.1 972.9 L1582.3 989.9 L1583.1 1018.9 L1583.9 991.2 L1586.2 972.7 L1587.6 989.6 L1588.6 991.5 L1590.9 974.7 L1592.4 990.6 L1593.3 1039.0 L1594.2 991.6 L1597.5 978.7 L1599.8 990.6 L1600.9 1006.8 L1601.6 1000.9 L1602.7 995.9 L1605.3 982.1 L1606.5 999.8 L1607.3 1034.0 L1608.1 997.0 L1610.4 984.1 L1611.8 997.2 L1612.8 1001.6 L1615.1 988.8 L1616.6 1003.6 L1617.5 1053.0 L1618.4 1006.3 L1621.7 991.4 L1624.0 1005.5 L1625.1 1021.9 L1625.8 1019.2 L1626.9 1006.2 L1629.5 997.0 L1630.7 1010.1 L1631.5 1045.8 L1632.3 1011.6 L1634.6 999.9 L1636.0 1014.2 L1637.0 1017.2 L1639.3 1001.8 L1640.8 1019.2 L1641.7 1066.6 L1642.6 1020.7 L1645.9 1005.8 L1648.2 1019.6 L1649.3 1034.8 L1650.0 1037.0 L1651.7 1011.9 L1653.5 1050.9 L1655.3 1114.9 L1656.7 1087.0 L1658.1 1081.0 L1660.3 1079.0 L1661.7 1027.0 L1662.4 1023.0 L1663.3 1029.0 L1664.1 1053.0 L1665.7 1057.0 L1668.6 1062.0 L1670.5 1065.0 L1671.3 1134.5 L1672.1 1098.0 L1672.9 1087.0 L1676.1 1088.0 L1678.3 1093.0 L1679.7 1118.0 L1681.5 1173.0 L1682.9 1202.5 L1684.4 1168.0 L1685.7 1165.0 L1686.7 1175.0 L1687.7 1252.4 L1689.4 1324.0 L1690.4 1192.6 L1691.7 1105.0 L1692.7 1062.0 L1693.7 1036.0 L1694.9 1038.0 L1696.3 1075.3 L1697.1 1065.5 L1699.1 1089.7 L1699.8 1091.3 L1700.9 1078.2 L1703.5 1065.0 L1704.7 1077.4 L1705.5 1127.6 L1706.3 1084.8 L1708.6 1067.2 L1710.0 1080.5 L1711.0 1084.1 L1713.3 1069.5 L1714.8 1081.7 L1715.7 1152.7 L1716.3 1110.0" stroke="#ff0000" stroke-width="6.2" stroke-dasharray="23 24.4"/>
</g>
<text transform="translate(231.0,1480.8) scale(0.980,1.000)" font-size="74.5" text-anchor="middle" fill="#242424">0</text>
<text transform="translate(478.6,1480.8) scale(0.980,1.000)" font-size="74.5" text-anchor="middle" fill="#242424">2000</text>
<text transform="translate(726.1,1480.8) scale(0.980,1.000)" font-size="74.5" text-anchor="middle" fill="#242424">4000</text>
<text transform="translate(973.6,1480.8) scale(0.980,1.000)" font-size="74.5" text-anchor="middle" fill="#242424">6000</text>
<text transform="translate(1221.2,1480.8) scale(0.980,1.000)" font-size="74.5" text-anchor="middle" fill="#242424">8000</text>
<text transform="translate(1468.8,1480.8) scale(0.980,1.000)" font-size="74.5" text-anchor="middle" fill="#242424">10,000</text>
<text transform="translate(1716.3,1480.8) scale(0.980,1.000)" font-size="74.5" text-anchor="middle" fill="#242424">12,000</text>
<text transform="translate(208.6,69.7) scale(0.980,1.000)" font-size="74.5" text-anchor="end" fill="#242424">4.2</text>
<text transform="translate(208.6,338.6) scale(0.980,1.000)" font-size="74.5" text-anchor="end" fill="#242424">4</text>
<text transform="translate(208.6,607.4) scale(0.980,1.000)" font-size="74.5" text-anchor="end" fill="#242424">3.8</text>
<text transform="translate(208.6,876.3) scale(0.980,1.000)" font-size="74.5" text-anchor="end" fill="#242424">3.6</text>
<text transform="translate(208.6,1145.1) scale(0.980,1.000)" font-size="74.5" text-anchor="end" fill="#242424">3.4</text>
<text transform="translate(208.6,1414.0) scale(0.980,1.000)" font-size="74.5" text-anchor="end" fill="#242424">3.2</text>
<text transform="translate(973.8,1583.6) scale(1.000,1.022)" font-size="82.2" text-anchor="middle" fill="#242424">Time(s)</text>
<text transform="translate(80.0,714.4) rotate(-90) scale(1.000,1.018)" font-size="82.6" text-anchor="middle" fill="#242424">Voltage(V)</text>
<path d="M1139.3 112 H1208.6" stroke="#000" stroke-width="6.4" fill="none"/>
<path d="M1139.3 184.8 H1162.9 M1169.8 184.8 H1187" stroke="#ff0000" stroke-width="5.6" fill="none"/>
<text transform="translate(1215.8,133.7) scale(0.970,1.000)" font-size="57.2" text-anchor="start" fill="#000">Measurement</text>
<text transform="translate(1215.8,206.0) scale(0.970,1.000)" font-size="57.2" text-anchor="start" fill="#000">Model Estimation</text>
<rect x="439.3" y="837.7" width="527.6" height="383.3" fill="#fefefe"/>
<rect x="439.3" y="837.7" width="527.6" height="383.3" fill="none" stroke="#242424" stroke-width="5.6"/>
<path d="M544.8 1221.0 v-8.0 M544.8 837.7 v8.0 M755.9 1221.0 v-8.0 M755.9 837.7 v8.0 M439.3 965.5 h8.0 M966.9 965.5 h-8.0 M439.3 1093.2 h8.0 M966.9 1093.2 h-8.0" fill="none" stroke="#242424" stroke-width="5"/>
<g fill="none" stroke-linejoin="miter" stroke-linecap="butt">
<path d="M439.3 939.7 L544.8 862.2 L755.9 1015.5 L861.4 1117.8 L966.9 1016.8" stroke="#000" stroke-width="6.2"/>
<path d="M439.3 860 L544.8 967.7 L650.3 863 L755.9 953 L861.4 1034.2 L966.9 1142.5" stroke="#ff0000" stroke-width="5.9" stroke-dasharray="23 24.4" stroke-dashoffset="0.7"/>
</g>
<text transform="translate(544.8,1287.3) scale(0.970,1.000)" font-size="50.5" text-anchor="middle" fill="#242424">6</text>
<text transform="translate(755.9,1287.3) scale(0.970,1.000)" font-size="50.5" text-anchor="middle" fill="#242424">8</text>
<text transform="translate(966.9,1287.3) scale(0.970,1.000)" font-size="50.5" text-anchor="middle" fill="#242424">10</text>
<text transform="translate(422.5,857.1) scale(0.970,1.000)" font-size="50.5" text-anchor="end" fill="#242424">4.166</text>
<text transform="translate(422.5,984.9) scale(0.970,1.000)" font-size="50.5" text-anchor="end" fill="#242424">4.165</text>
<text transform="translate(422.5,1112.6) scale(0.970,1.000)" font-size="50.5" text-anchor="end" fill="#242424">4.164</text>
<text x="74" y="1567.5" font-size="92" fill="#000" style="font-family:'Liberation Serif','Times New Roman',serif;font-weight:bold">(a)</text>
</svg></body></html>
